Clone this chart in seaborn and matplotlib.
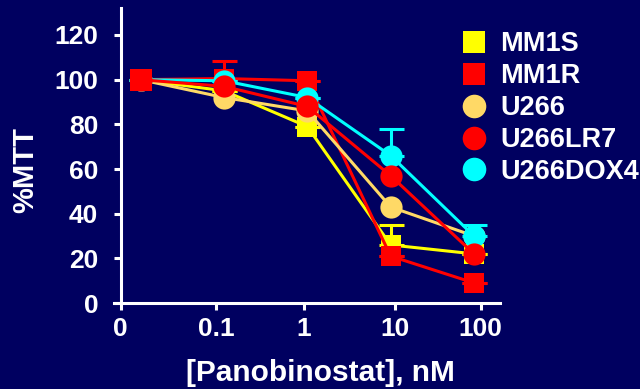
import numpy as np
import pandas as pd
import matplotlib
matplotlib.use('Agg')
import matplotlib.pyplot as plt
import seaborn as sns
from matplotlib.lines import Line2D

# 데이터
doses = ['0', '0.1', '1', '10', '100']
mm1s = [100, 95, 79, 26, 22]
mm1r = [100, 100.5, 99.5, 21, 9]
u266 = [100, 92, 86, 43, 30]
u266lr7 = [100, 97, 88, 57, 22]
u266dox4 = [100, 99.5, 92, 66, 30]

# 위쪽 에러바 (표시된 것만)
mm1s_err = [0, 0, 0, 9, 0]
mm1r_err = [0, 8, 0, 0, 0]
u266dox4_err = [0, 0, 0, 12, 5]

lines = ['MM1S', 'MM1R', 'U266', 'U266LR7', 'U266DOX4']
values = {'MM1S': mm1s, 'MM1R': mm1r, 'U266': u266,
          'U266LR7': u266lr7, 'U266DOX4': u266dox4}
errors = {'MM1S': mm1s_err, 'MM1R': mm1r_err, 'U266DOX4': u266dox4_err}

colors = {'MM1S': '#FFFF00', 'MM1R': '#FF0000', 'U266': '#FFD966',
          'U266LR7': '#FF0000', 'U266DOX4': '#00FFFF'}
markers = {'MM1S': 's', 'MM1R': 's', 'U266': 'o', 'U266LR7': 'o', 'U266DOX4': 'o'}
draw_order = ['MM1S', 'MM1R', 'U266', 'U266DOX4', 'U266LR7']

rows = []
for name in lines:
    for i, v in enumerate(values[name]):
        rows.append({'pos': i, 'value': v, 'line': name})
df = pd.DataFrame(rows)

bg = '#000060'
sns.set_style('ticks')
plt.rcParams['font.family'] = ['Liberation Sans', 'DejaVu Sans']
plt.rcParams['font.weight'] = 'bold'

fig = plt.figure(figsize=(6.4, 3.89), dpi=100, facecolor=bg)
ax = fig.add_axes([0.178, 0.221, 0.603, 0.758])
ax.set_facecolor(bg)

for k, name in enumerate(draw_order):
    sub = df[df['line'] == name]
    if name in errors:
        ax.errorbar(sub['pos'], sub['value'], yerr=[np.zeros(5), errors[name]],
                    fmt='none', ecolor=colors[name], elinewidth=2.2,
                    capsize=9, capthick=2.2, zorder=2 + k)
    sns.lineplot(data=sub, x='pos', y='value', color=colors[name],
                 marker=markers[name], markersize=15 if markers[name] == 's' else 16,
                 markeredgewidth=0, linewidth=2.2, ax=ax, zorder=3 + k,
                 legend=False)

# 0 농도 지점은 MM1R 사각형이 맨 위
first = df[(df['line'] == 'MM1R') & (df['pos'] == 0)]
ax.plot(first['pos'], first['value'], linestyle='none', marker='s',
        markersize=16, markeredgewidth=0, color=colors['MM1R'], zorder=20)

# 축 설정 (Prism 스타일)
tick_pos = [-0.24, 0.91, 1.96, 3.05, 4.08]
ax.set_xlim(-0.32, 4.31)
ax.set_ylim(0, 132)
ax.set_xticks(tick_pos)
ax.set_xticklabels(doses)
ax.set_yticks(range(0, 121, 20))
ax.spines['left'].set_position(('data', -0.24))
ax.spines['top'].set_visible(False)
ax.spines['right'].set_visible(False)
for s in ['left', 'bottom']:
    ax.spines[s].set_color('white')
    ax.spines[s].set_linewidth(2.2)
ax.tick_params(colors='white', width=2.2, length=5, labelsize=19)
ax.tick_params(axis='x', pad=5)
ax.tick_params(axis='y', pad=11)
for lab in ax.get_xticklabels() + ax.get_yticklabels():
    lab.set_fontweight('bold')

ax.set_xlabel('[Panobinostat], nM', color='white', fontsize=21.5, fontweight='bold')
ax.set_ylabel('%MTT', color='white', fontsize=21, fontweight='bold')
ax.xaxis.set_label_coords(0.536, -0.19)
ax.yaxis.set_label_coords(-0.194, 0.45)

handles = [Line2D([], [], linestyle='none', marker=markers[n], color=colors[n],
                  markersize=16 if markers[n] == 's' else 17, markeredgewidth=0)
           for n in lines]
leg = ax.legend(handles, lines, loc='upper left', bbox_to_anchor=(0.72, 0.92),
                bbox_transform=fig.transFigure, frameon=False, fontsize=19.5,
                handlelength=1.0, handletextpad=0.45, labelspacing=0.22,
                borderaxespad=0, borderpad=0)
for t in leg.get_texts():
    t.set_color('white')
    t.set_fontweight('bold')

fig.savefig('out.png', dpi=100, facecolor=bg)
